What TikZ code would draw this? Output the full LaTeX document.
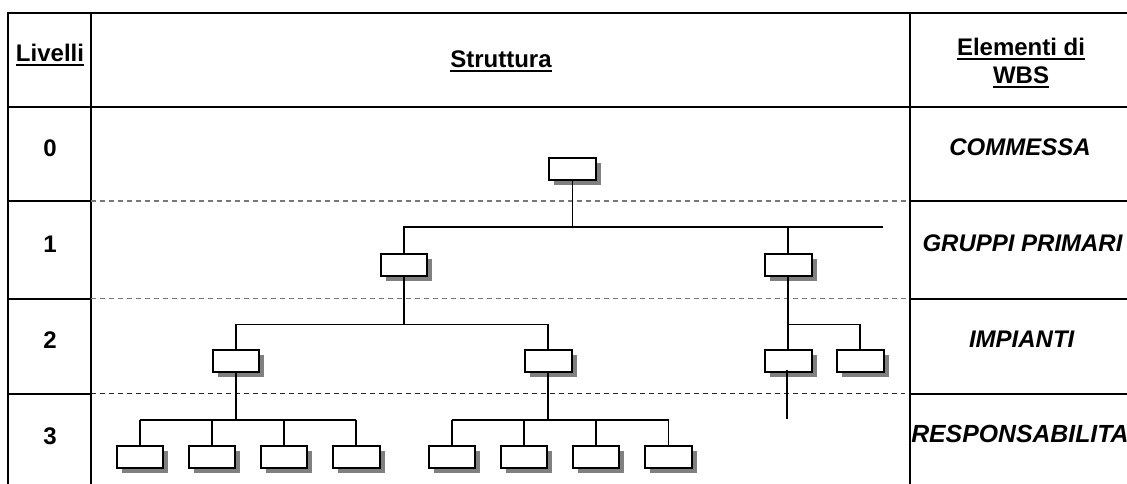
\documentclass[tikz,border=0pt]{standalone}
\usepackage{fontspec}
\setmainfont{Liberation Sans}
\usetikzlibrary{shadows}
\definecolor{shadowgray}{RGB}{128,128,128}
\definecolor{sepgray}{RGB}{120,120,120}
% underlined heading word
\newcommand\ulword[1]{\leavevmode\setbox0\hbox{#1}\rlap{\rule[-3.3pt]{\wd0}{1.5pt}}\box0}
\newcommand\tablefont{\fontsize{18pt}{20.7pt}\selectfont}
\begin{document}
\begin{tikzpicture}[x=0.75pt,y=-0.75pt,
  grid/.style={line width=1.6pt},
  levelsep/.style={dash pattern=on 3.75pt off 3pt},
  wbsbox/.style={draw, line width=1.5pt, fill=white, minimum width=35pt,
    minimum height=17pt, inner sep=0pt,
    drop shadow={shadow xshift=3.75pt, shadow yshift=-3.75pt, fill=shadowgray, opacity=1}},
  link/.style={line width=1.25pt},
  head/.style={font=\tablefont\bfseries, inner sep=0pt, anchor=base},
  lvl/.style={font=\tablefont\bfseries, inner sep=0pt, anchor=base},
  elem/.style={font=\tablefont\bfseries\itshape, inner sep=0pt, anchor=base}]
\useasboundingbox (0,0) rectangle (1127,484);
\begin{scope}
\clip (0,0) rectangle (1127,484);

% table frame
\draw[grid] (8,484) -- (8,13) -- (1127,13);
\draw[grid] (8,107) -- (1127,107);
\draw[grid] (91,13) -- (91,484);
\draw[grid] (910,13) -- (910,484);
\foreach \y in {201,299,394} {
  \draw[grid] (8,\y) -- (91,\y);
  \draw[grid] (910,\y) -- (1127,\y);
}

% level separators in the structure column
\draw[levelsep, line width=0.8pt, sepgray] (91,201) -- (907,201);
\draw[levelsep, line width=0.8pt, sepgray] (91,298.5) -- (907,298.5);
\draw[levelsep, line width=1.1pt, black!85] (91,393.5) -- (905,393.5);

% headings
\node[head] (hlev) at (50,61.7) {\ulword{Livelli}};
\node[head] (hstr) at (501,68) {\ulword{Struttura}};
\node[head] (hel1) at (1021,55.7) {\ulword{Elementi di}};
\node[head] (hel2) at (1021,83.3) {\ulword{WBS}};

% level numbers
\node[lvl] (n0) at (50,156.7) {0};
\node[lvl] (n1) at (50,252.3) {1};
\node[lvl] (n2) at (50,348.3) {2};
\node[lvl] (n3) at (50,444.3) {3};

% WBS element names
\node[elem] (e0) at (1020,155.7) {COMMESSA};
\node[elem] (e1) at (1022.5,251.7) {GRUPPI PRIMARI};
\node[elem] (e2) at (1021.7,347.7) {IMPIANTI};
\node[elem, anchor=base west, font=\fontsize{18.6pt}{21pt}\selectfont\bfseries\itshape] (e3) at (911,442.7) {RESPONSABILITA};

% tree boxes
\node[wbsbox] (root) at (572.5,169) {};
\node[wbsbox] (L1a) at (404,265) {};
\node[wbsbox] (L1b) at (788.3,265) {};
\node[wbsbox] (L2a) at (236,361) {};
\node[wbsbox] (L2b) at (548.3,361) {};
\node[wbsbox] (L2c) at (788.3,361) {};
\node[wbsbox] (L2d) at (860.3,361) {};
\foreach \n/\x in {a/140,b/212,c/284,d/356.3,e/452,f/524,g/596,h/668.5}
  \node[wbsbox] (L3\n) at (\x,457) {};

% level 1 bus
\coordinate (bar1) at (883,226.7);
\draw[link] ([yshift=2pt]root.south) -- (root.south |- bar1);
\draw[link] (L1a.north) -- (L1a.north |- bar1) -- (bar1);
\draw[link] (L1b.north) -- (L1b.north |- bar1);

% level 2 buses
\coordinate (bar2) at (0,324.5);
\draw[link] ([yshift=2pt]L1a.south) -- (L1a.south |- bar2);
\draw[link] (L2a.north) -- (L2a.north |- bar2) -- (L2b.north |- bar2) -- (L2b.north);
\draw[link] ([yshift=2pt]L1b.south) -- (L2c.north);
\draw[link] (L2c.north |- bar2) -- (L2d.north |- bar2) -- (L2d.north);
\coordinate (stub) at (786.7,419.3);
\draw[link] (stub |- L2c.south) ++(0,-3) -- (stub);

% level 3 buses
\coordinate (bar3) at (0,420);
\draw[link] ([yshift=2pt]L2a.south) -- (L2a.south |- bar3);
\draw[link] (L3a.north |- bar3) -- (L3d.north |- bar3);
\draw[link] ([yshift=2pt]L2b.south) -- (L2b.south |- bar3);
\draw[link] (L3e.north |- bar3) -- (L3h.north |- bar3);
\foreach \n in {a,b,c,d,e,f,g,h}
  \draw[link] (L3\n.north) -- (L3\n.north |- bar3);
\end{scope}
\end{tikzpicture}
\end{document}
